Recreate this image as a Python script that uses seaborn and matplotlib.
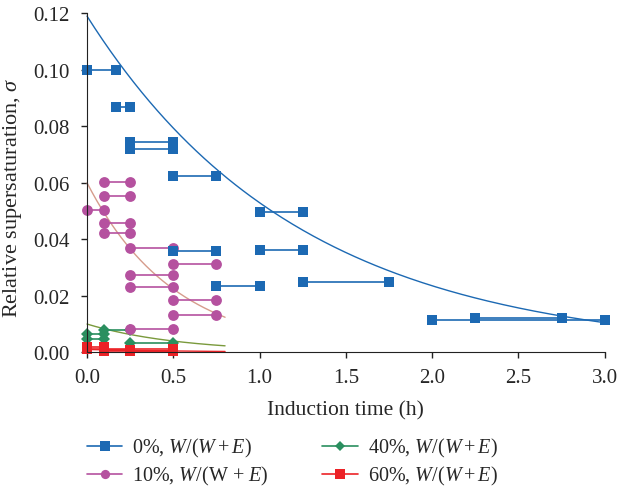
import numpy as np
import pandas as pd
import matplotlib
matplotlib.use('Agg')
import matplotlib.pyplot as plt
from matplotlib.lines import Line2D
import seaborn as sns

# each pair of measurements: start time, end time (h) and sigma
t0_0 = [0, 0.167, 0.25, 0.25, 0.5, 0.5, 0.75, 1.0, 1.0, 1.25, 2.0, 2.25]
t1_0 = [0.167, 0.25, 0.5, 0.5, 0.75, 0.75, 1.0, 1.25, 1.25, 1.75, 3.0, 2.75]
s_0 = [0.100, 0.087, 0.0745, 0.0718, 0.0625, 0.0359, 0.0236, 0.0498, 0.0363, 0.0249, 0.0115, 0.0121]

t0_10 = [0.1, 0.1, 0, 0.1, 0.1, 0.25, 0.5, 0.25, 0.25, 0.5, 0.5, 0.25]
t1_10 = [0.25, 0.25, 0.1, 0.25, 0.25, 0.5, 0.75, 0.5, 0.5, 0.75, 0.75, 0.5]
s_10 = [0.0602, 0.0552, 0.0503, 0.0458, 0.0421, 0.0368, 0.0314, 0.0274, 0.0230, 0.0186, 0.0132, 0.0082]

t0_40 = [0, 0.1, 0, 0.25]
t1_40 = [0.1, 0.25, 0.1, 0.5]
s_40 = [0.0065, 0.0080, 0.0046, 0.0034]

t0_60 = [0, 0, 0.1, 0.25, 0.1]
t1_60 = [0.1, 0.5, 0.25, 0.5, 0.5]
s_60 = [0.0018, 0.0012, 0.0008, 0.0005, 0.0003]

# exponential trendlines y = a*exp(-b*t)
trend_a = [0.119, 0.060, 0.0100, 0.0010]
trend_b = [0.81, 1.97, 1.84, 1.5]
trend_end = [3.0, 0.8, 0.8, 0.8]

names = ['0%', '10%', '40%', '60%']
labels = ['0%, $W/(W+E)$', '10%, $W/$(W + $E$)', '40%, $W/(W+E)$', '60%, $W/(W+E)$']
colors = ['#1c69b3', '#b5519f', '#2a8f5f', '#ec2227']
curve_colors = ['#1c69b3', '#d69c8c', '#7a9a3c', '#ec2227']
markers = ['s', 'o', 'D', 's']
msizes = [7.8, 7.8, 5.8, 7.8]

sns.set_style('ticks')
plt.rcParams['font.family'] = ['Liberation Serif', 'DejaVu Serif']
plt.rcParams['mathtext.fontset'] = 'custom'
plt.rcParams['mathtext.rm'] = 'Liberation Serif'
plt.rcParams['mathtext.it'] = 'Liberation Serif:italic'

rows = []
for name, t0, t1, s in zip(names, [t0_0, t0_10, t0_40, t0_60], [t1_0, t1_10, t1_40, t1_60], [s_0, s_10, s_40, s_60]):
    for i in range(len(s)):
        rows.append((name, f'{name}-{i}', t0[i], s[i]))
        rows.append((name, f'{name}-{i}', t1[i], s[i]))
df = pd.DataFrame(rows, columns=['series', 'pair', 't', 'sigma'])

fig = plt.figure(figsize=(6.18, 4.89), dpi=100)
ax = fig.add_axes([0.1408, 0.2775, 0.8377, 0.6933])

# trendlines
for k in range(4):
    tt = np.linspace(0, trend_end[k], 200)
    sns.lineplot(x=tt, y=trend_a[k] * np.exp(-trend_b[k] * tt), ax=ax, color=curve_colors[k], lw=1.0)

order = [2, 1, 0, 3]
for k in order:
    sub = df[df.series == names[k]]
    sns.lineplot(data=sub, x='t', y='sigma', units='pair', estimator=None, sort=False,
                 color=colors[k], marker=markers[k], markersize=msizes[k], mew=0,
                 lw=1.2, ax=ax, legend=False)

for ln in ax.lines:
    ln.set_clip_on(False)

ax.set_xlim(0, 3.0)
ax.set_ylim(0, 0.12)
ax.set_xticks(np.arange(0, 3.01, 0.5))
ax.set_yticks(np.arange(0, 0.121, 0.02))
ax.set_xticklabels([f'{v:.1f}' for v in np.arange(0, 3.01, 0.5)])
ax.set_yticklabels([f'{v:.2f}' for v in np.arange(0, 0.121, 0.02)])
ax.tick_params(labelsize=15, length=4.5, width=1, color='#222222')
ax.tick_params(axis='y', pad=8)
ax.tick_params(axis='x', pad=7)
for sp in ['top', 'right']:
    ax.spines[sp].set_visible(False)
for sp in ['left', 'bottom']:
    ax.spines[sp].set_color('#222222')
ax.set_xlabel('Induction time (h)', fontsize=15.5, labelpad=9)
ax.set_ylabel('Relative supersaturation, $\\sigma$', fontsize=16)
ax.yaxis.set_label_coords(-0.122, 0.46)

handles = [Line2D([0], [0], color=colors[k], marker=markers[k], markersize=msizes[k] * 0.85, mew=0, lw=1.2)
           for k in range(4)]
fig.legend(handles, labels, ncol=2, loc='upper left', bbox_to_anchor=(0.141, 0.106),
           frameon=False, fontsize=14.5, handlelength=1.75, handletextpad=0.5, borderpad=0,
           borderaxespad=0, columnspacing=2.65, labelspacing=0.25)

fig.savefig('out.png', dpi=100)
